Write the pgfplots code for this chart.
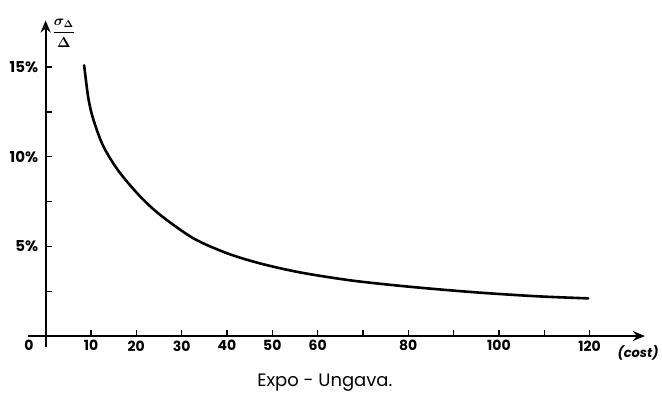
\documentclass[border=0pt]{standalone}
\usepackage{amsmath,amssymb}
\usepackage{pgfplots}
\pgfplotsset{compat=1.18}
\usetikzlibrary{arrows.meta}
\usepackage{fontspec}
\setmainfont{Poppins}
\begin{document}
\begin{tikzpicture}
% picture origin = axis south west = data (-3.8,-0.6)
\useasboundingbox (-28.4pt,-56.2pt) rectangle (633.6pt,346.8pt);
\begin{axis}[
  x=4.533pt, y=17.93pt,
  xmin=-3.8, xmax=132.2, ymin=-0.6, ymax=17.6,
  axis lines=middle,
  clip=false,
  axis line style={line width=2pt, -{Stealth[length=12pt,width=10pt]}},
  xtick={10,20,...,120},
  xticklabels={10,20,30,40,50,60,,80,,100,,120},
  extra x ticks={-3.66},
  extra x tick labels={0},
  extra x tick style={major tick length=0pt},
  ytick={2.5,5,...,15},
  yticklabels={,5\%,,10\%,,15\%},
  tick align=inside,
  major tick length=6pt,
  tick style={line width=1.2pt, black},
  xticklabel style={font=\bfseries\fontsize{14}{16}\selectfont, yshift=-1pt},
  yticklabel style={font=\bfseries\fontsize{15}{17}\selectfont, xshift=-4pt},
]
\addplot[black, line width=2.6pt, line cap=round, smooth] coordinates {
  (8.5,15.1) (9.4,13.3) (10.5,12.1) (12.7,10.6) (16.1,9.2) (20.8,7.8)
  (25.3,6.75) (32.6,5.45) (40,4.62) (47.3,4.05) (56.1,3.55) (67.1,3.11)
  (78.2,2.80) (89.2,2.55) (98.0,2.38) (109.0,2.21) (119.7,2.10)};
\node[font=\bfseries\itshape\fontsize{13}{15}\selectfont] at (axis cs:130.7,-0.95) {(cost)};
\node[font=\Large] at (axis cs:4.0,16.9) {$\displaystyle\boldsymbol{\frac{\sigma_\Delta}{\Delta}}$};
\node[font=\fontsize{18}{21}\selectfont] at (axis cs:61.6,-2.62) {Expo - Ungava.};
\end{axis}
\end{tikzpicture}
\end{document}
